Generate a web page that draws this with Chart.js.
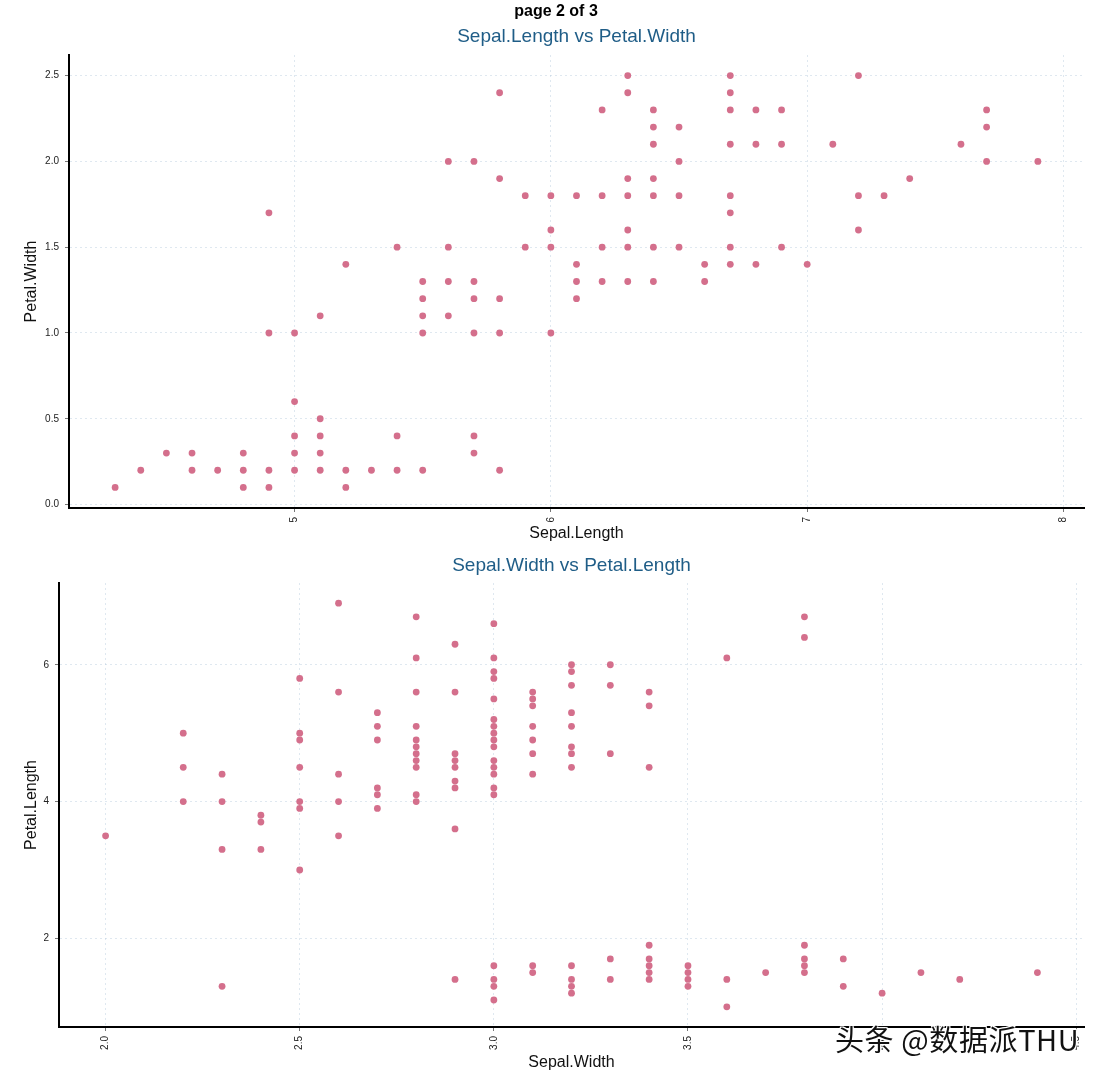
<!DOCTYPE html>
<html>
<head>
<meta charset="utf-8">
<title>iris scatter page 2</title>
<script src="https://cdn.jsdelivr.net/npm/chart.js@4/dist/chart.umd.min.js"></script>
<style>
  body { margin: 0; background: #fff; width: 1108px; height: 1076px; position: relative; overflow: hidden; }
  #top { position: absolute; left: 0; top: 0; }
  #bottom { position: absolute; left: 0; top: 548px; }
  .page {
    position: absolute; left: 456px; width: 200px; top: 1px; text-align: center;
    font: bold 16px/20px "Liberation Sans", Arial, sans-serif; color: #000;
  }
  .mark {
    position: absolute; left: 835px; top: 1017px;
    font: 29px "Noto Sans CJK SC", sans-serif; color: #111; letter-spacing: 0.6px;
    text-shadow: 1px 1px 0 #fff, -1px -1px 0 #fff, 1px -1px 0 #fff, -1px 1px 0 #fff, 0 0 2px #fff;
  }
</style>
</head>
<body>
<canvas id="top" width="1108" height="548"></canvas>
<canvas id="bottom" width="1108" height="528"></canvas>
<div class="page">page 2 of 3</div>
<div class="mark">头条 @数据派THU</div>
<script>
// Sepal.Length (x) and the distinct Petal.Width values seen at each x
const sepalLength = [4.3, 4.4, 4.5, 4.6, 4.7, 4.8, 4.9, 5.0, 5.1, 5.2, 5.3, 5.4, 5.5, 5.6, 5.7, 5.8, 5.9,
    6.0, 6.1, 6.2, 6.3, 6.4, 6.5, 6.6, 6.7, 6.8, 6.9, 7.0, 7.1, 7.2, 7.3, 7.4, 7.6, 7.7, 7.9];
const petalWidth = [
    [0.1], [0.2], [0.3], [0.2, 0.3], [0.2], [0.1, 0.2, 0.3], [0.1, 0.2, 1.0, 1.7],
    [0.2, 0.3, 0.4, 0.6, 1.0], [0.2, 0.3, 0.4, 0.5, 1.1], [0.1, 0.2, 1.4], [0.2], [0.2, 0.4, 1.5],
    [0.2, 1.0, 1.1, 1.2, 1.3], [1.1, 1.3, 1.5, 2.0], [0.3, 0.4, 1.0, 1.2, 1.3, 2.0],
    [0.2, 1.0, 1.2, 1.9, 2.4], [1.5, 1.8], [1.0, 1.5, 1.6, 1.8], [1.2, 1.3, 1.4, 1.8],
    [1.3, 1.5, 1.8, 2.3], [1.3, 1.5, 1.6, 1.8, 1.9, 2.4, 2.5], [1.3, 1.5, 1.8, 1.9, 2.1, 2.2, 2.3],
    [1.5, 1.8, 2.0, 2.2], [1.3, 1.4], [1.4, 1.5, 1.7, 1.8, 2.1, 2.3, 2.4, 2.5], [1.4, 2.1, 2.3],
    [1.5, 2.1, 2.3], [1.4], [2.1], [1.6, 1.8, 2.5], [1.8], [1.9], [2.1], [2.0, 2.2, 2.3], [2.0]
];

// Sepal.Width (x) and the distinct Petal.Length values seen at each x
const sepalWidth = [2.0, 2.2, 2.3, 2.4, 2.5, 2.6, 2.7, 2.8, 2.9, 3.0, 3.1, 3.2, 3.3, 3.4, 3.5,
    3.6, 3.7, 3.8, 3.9, 4.0, 4.1, 4.2, 4.4];
const petalLength = [
    [3.5], [4.0, 4.5, 5.0], [1.3, 3.3, 4.0, 4.4], [3.3, 3.7, 3.8],
    [3.0, 3.9, 4.0, 4.5, 4.9, 5.0, 5.8], [3.5, 4.0, 4.4, 5.6, 6.9],
    [3.9, 4.1, 4.2, 4.9, 5.1, 5.3],
    [4.0, 4.1, 4.5, 4.6, 4.7, 4.8, 4.9, 5.1, 5.6, 6.1, 6.7],
    [1.4, 3.6, 4.2, 4.3, 4.5, 4.6, 4.7, 5.6, 6.3],
    [1.1, 1.3, 1.4, 1.6, 4.1, 4.2, 4.4, 4.5, 4.6, 4.8, 4.9, 5.0, 5.1, 5.2, 5.5, 5.8, 5.9, 6.1, 6.6],
    [1.5, 1.6, 4.4, 4.7, 4.9, 5.1, 5.4, 5.5, 5.6],
    [1.2, 1.3, 1.4, 1.6, 4.5, 4.7, 4.8, 5.1, 5.3, 5.7, 5.9, 6.0],
    [1.4, 1.7, 4.7, 5.7, 6.0], [1.4, 1.5, 1.6, 1.7, 1.9, 4.5, 5.4, 5.6], [1.3, 1.4, 1.5, 1.6],
    [1.0, 1.4, 6.1], [1.5], [1.5, 1.6, 1.7, 1.9, 6.4, 6.7], [1.3, 1.7], [1.2], [1.5], [1.4], [1.5]
];

const topXTicks = [5, 6, 7, 8];
const topYTicks = [0.0, 0.5, 1.0, 1.5, 2.0, 2.5];
const bottomXTicks = [2.0, 2.5, 3.0, 3.5, 4.0, 4.5];
const bottomYTicks = [2, 4, 6];

const pointColor = '#d46f8c';
const titleColor = '#1f5d87';
const gridColor = 'rgba(175, 198, 218, 0.4)';
const fontFamily = '"Liberation Sans", Arial, sans-serif';

function toPoints(xs, ys) {
    return xs.flatMap((x, i) => ys[i].map(y => ({ x: x, y: y })));
}

function makeAxis(opts) {
    const axis = {
        type: 'linear',
        min: opts.min,
        max: opts.max,
        afterBuildTicks: scale => { scale.ticks = opts.ticks.map(v => ({ value: v })); },
        afterFit: scale => {
            if (opts.width) scale.width = opts.width;
            if (opts.height) scale.height = opts.height;
        },
        ticks: {
            font: { family: fontFamily, size: 10 },
            color: '#222',
            padding: opts.tickPad,
            callback: opts.format
        },
        grid: {
            color: gridColor,
            lineWidth: 1,
            tickColor: '#777',
            tickLength: 4
        },
        border: { color: '#000', width: 2, dash: [2, 3] },
        title: {
            display: true,
            text: opts.title,
            color: '#111',
            font: { family: fontFamily, size: 16 },
            padding: opts.titlePad
        }
    };
    if (opts.rotate) {
        axis.ticks.minRotation = 90;
        axis.ticks.maxRotation = 90;
    }
    return axis;
}

function scatter(canvas, data, xAxis, yAxis, title, padding) {
    new Chart(canvas, {
        type: 'scatter',
        data: {
            datasets: [{
                data: data,
                backgroundColor: pointColor,
                borderColor: pointColor,
                borderWidth: 0,
                pointRadius: 3.4,
                pointHoverRadius: 3.4
            }]
        },
        options: {
            responsive: false,
            animation: false,
            layout: { padding: padding },
            plugins: {
                legend: { display: false },
                tooltip: { enabled: false },
                title: {
                    display: true,
                    text: title.text,
                    color: titleColor,
                    fullSize: false,
                    font: { family: fontFamily, size: 19, weight: 'normal' },
                    padding: title.padding
                }
            },
            scales: { x: xAxis, y: yAxis }
        }
    });
}

// top panel: Sepal.Length vs Petal.Width
scatter(
    document.getElementById('top'),
    toPoints(sepalLength, petalWidth),
    makeAxis({ min: 4.12, max: 8.08, ticks: topXTicks, height: 40, rotate: true, tickPad: 5,
        format: v => String(v), title: 'Sepal.Length', titlePad: { top: 0, bottom: 4.4 } }),
    makeAxis({ min: -0.02, max: 2.62, ticks: topYTicks, width: 69, tickPad: 6,
        format: v => v.toFixed(1), title: 'Petal.Width', titlePad: { top: 22, bottom: 0 } }),
    { text: 'Sepal.Length vs Petal.Width', padding: { top: 25.6, bottom: 6.6 } },
    { left: 0, right: 24, top: 0, bottom: 0 }
);

// bottom panel: Sepal.Width vs Petal.Length
scatter(
    document.getElementById('bottom'),
    toPoints(sepalWidth, petalLength),
    makeAxis({ min: 1.88, max: 4.52, ticks: bottomXTicks, height: 49, rotate: true, tickPad: 5,
        format: v => v.toFixed(1), title: 'Sepal.Width', titlePad: { top: 0, bottom: 3.4 } }),
    makeAxis({ min: 0.705, max: 7.195, ticks: bottomYTicks, width: 59, tickPad: 6,
        format: v => String(v), title: 'Petal.Length', titlePad: { top: 22, bottom: 0 } }),
    { text: 'Sepal.Width vs Petal.Length', padding: { top: 6.6, bottom: 5.6 } },
    { left: 0, right: 24, top: 0, bottom: 0 }
);
</script>
</body>
</html>
